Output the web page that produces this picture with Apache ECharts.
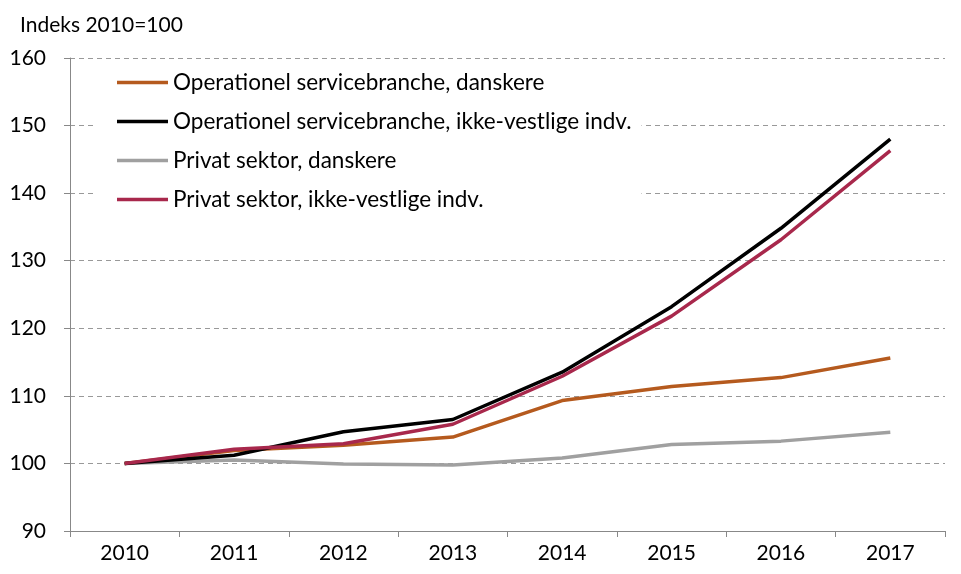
<!DOCTYPE html>
<html>
<head>
    <meta charset="UTF-8">
    <script src="https://cdn.jsdelivr.net/npm/echarts@6/dist/echarts.min.js"></script>
</head>
<body style="margin:0;">
    <div id="main" style="width: 961px; height: 574px;"></div>
    <script>
        // 数据
        var years = ['2010', '2011', '2012', '2013', '2014', '2015', '2016', '2017'];
        var opsDanskere = [100, 101.9, 102.7, 103.9, 109.3, 111.4, 112.7, 115.6];
        var opsIkkeVestlige = [100, 101.2, 104.7, 106.5, 113.5, 123.2, 134.8, 148.0];
        var privatDanskere = [100, 100.5, 99.9, 99.75, 100.8, 102.8, 103.3, 104.6];
        var privatIkkeVestlige = [100, 102.1, 102.9, 105.8, 112.9, 121.8, 133.1, 146.3];

        var fontName = 'Lato';
        var myChart = echarts.init(document.getElementById('main'));

        function lineSeries(name, data, color, z) {
            return {
                name: name,
                type: 'line',
                data: data,
                symbol: 'none',
                z: z,
                lineStyle: { color: color, width: 3.5 },
                itemStyle: { color: color }
            };
        }

        var option = {
            animation: false,
            backgroundColor: '#fff',
            title: {
                text: 'Indeks 2010=100',
                left: 15,
                top: 10,
                textStyle: { fontFamily: fontName, fontSize: 21, fontWeight: 'normal', color: '#000' }
            },
            legend: {
                orient: 'vertical',
                left: 97,
                top: 66,
                padding: [5, 10, 5, 20],
                backgroundColor: '#fff',
                icon: 'rect',
                itemWidth: 51,
                itemHeight: 3.5,
                itemGap: 16,
                textStyle: { fontFamily: fontName, fontSize: 22.5, color: '#000', lineHeight: 23 },
                data: ['Operationel servicebranche, danskere', 'Operationel servicebranche, ikke-vestlige indv.',
                    'Privat sektor, danskere', 'Privat sektor, ikke-vestlige indv.']
            },
            grid: { left: 70, right: 16, top: 58, bottom: 43 },
            xAxis: {
                type: 'category',
                data: years,
                boundaryGap: true,
                axisLine: { lineStyle: { color: '#888', width: 1 } },
                axisTick: { show: true, length: 6, interval: 0, lineStyle: { color: '#888' } },
                axisLabel: { fontFamily: fontName, fontSize: 21, color: '#000', margin: 12 }
            },
            yAxis: {
                type: 'value',
                min: 90,
                max: 160,
                interval: 10,
                axisLine: { show: true, lineStyle: { color: '#888', width: 1 } },
                axisTick: { show: true, length: 6, lineStyle: { color: '#888' } },
                axisLabel: { fontFamily: fontName, fontSize: 21, color: '#000', margin: 24 },
                splitLine: { lineStyle: { color: '#999', type: [5, 4], width: 1 } }
            },
            // 绘制顺序：灰色在底，黑色/红色在上
            series: [
                lineSeries('Operationel servicebranche, danskere', opsDanskere, '#B55A1E', 2),
                lineSeries('Operationel servicebranche, ikke-vestlige indv.', opsIkkeVestlige, '#000000', 3),
                lineSeries('Privat sektor, danskere', privatDanskere, '#A0A0A0', 1),
                lineSeries('Privat sektor, ikke-vestlige indv.', privatIkkeVestlige, '#A8284C', 4)
            ]
        };

        myChart.setOption(option);
    </script>
</body>
</html>
